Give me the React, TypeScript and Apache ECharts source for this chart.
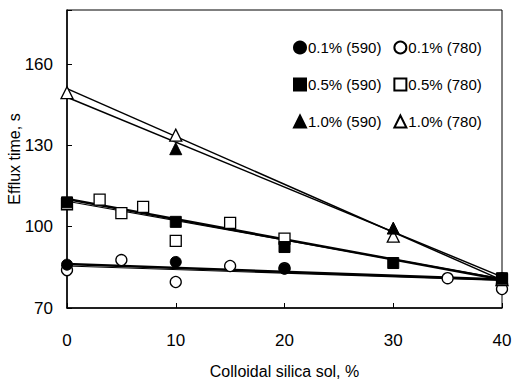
import React, { useEffect, useRef } from "react";
import * as echarts from "echarts";

const seriesNames = ["0.1% (590)", "0.1% (780)", "0.5% (590)", "0.5% (780)", "1.0% (590)", "1.0% (780)"];

// scatter data [x, y]
const c590: number[][] = [[0, 86], [10, 87], [20, 84.5], [40, 81]];
const c780: number[][] = [[0, 84], [5, 87.7], [10, 79.6], [15, 85.5], [20, 84.7], [35, 81], [40, 77]];
const s590: number[][] = [[0, 109], [10, 101.8], [20, 92.5], [30, 86.6], [40, 81]];
const s780: number[][] = [[0, 108.3], [3, 110], [5, 105], [7, 107.3], [10, 94.8], [15, 101.4], [20, 95.6], [40, 80.5]];
const t590: number[][] = [[10, 128.8], [30, 99.5], [40, 81]];
const t780: number[][] = [[0, 149.5], [10, 133.8], [30, 96.5], [40, 80.5]];

// fitted lines [x, y] endpoints
const fitC590: number[][] = [[0, 86.2], [40, 80.5]];
const fitC780: number[][] = [[0, 85.5], [40, 80.2]];
const fitS590: number[][] = [[0, 110.2], [40, 80.5]];
const fitS780: number[][] = [[0, 109.4], [40, 80.8]];
const fitT590: number[][] = [[0, 147.8], [40, 81.5]];
const fitT780: number[][] = [[0, 151], [40, 80.3]];

const yTicks = [70, 100, 130, 160];

const FONT = "Liberation Sans, Arial, sans-serif";

export default function App() {
  const ref = useRef<HTMLDivElement>(null);
  useEffect(() => {
    if (!ref.current) return;
    const chart = echarts.init(ref.current, undefined, { renderer: "svg" });
    const filled = { color: "#000", borderColor: "#000", borderWidth: 1, opacity: 1 };
    const open = { color: "#fff", borderColor: "#000", borderWidth: 1.3, opacity: 1 };
    const sc = (name: string, data: number[][], symbol: string, size: number, style: any) => ({
      type: "scatter",
      name,
      data,
      symbol,
      symbolSize: size,
      itemStyle: style,
      z: style.color === "#fff" ? 4 : 5,
    });
    const ln = (data: number[][], w: number) => ({
      type: "line",
      data,
      symbol: "none",
      lineStyle: { color: "#000", width: w },
      z: 3,
      silent: true,
    });
    const legendCommon = {
      left: 288,
      itemGap: 12,
      itemWidth: 12,
      itemHeight: 12,
      textStyle: { fontFamily: FONT, fontSize: 15, color: "#000", padding: [0, 0, 0, -3] },
    };
    chart.setOption({
      animation: false,
      backgroundColor: "#fff",
      grid: {
        left: 67,
        right: 11,
        top: 10,
        bottom: 74,
        show: true,
        borderColor: "#000",
        borderWidth: 1,
        containLabel: false,
        outerBoundsMode: "none",
      },
      legend: [
        { ...legendCommon, top: 35, data: [seriesNames[0], seriesNames[1]] },
        { ...legendCommon, top: 72, data: [seriesNames[2], seriesNames[3]] },
        { ...legendCommon, top: 109, data: [seriesNames[4], seriesNames[5]] },
      ],
      xAxis: {
        type: "value",
        min: 0,
        max: 40,
        interval: 10,
        name: "Colloidal silica sol, %",
        nameLocation: "middle",
        nameGap: 55,
        nameMoveOverlap: false,
        nameTextStyle: { fontFamily: FONT, fontSize: 16, color: "#000" },
        axisLine: { lineStyle: { color: "#000", width: 1.5 } },
        axisTick: { inside: true, length: 5, lineStyle: { color: "#000" } },
        axisLabel: { fontFamily: FONT, fontSize: 17, color: "#000", margin: 24 },
        splitLine: { show: false },
      },
      yAxis: {
        type: "value",
        min: 70,
        max: 180,
        interval: 30,
        name: "Efflux time, s",
        nameLocation: "middle",
        nameGap: 45,
        nameMoveOverlap: false,
        nameTextStyle: { fontFamily: FONT, fontSize: 16, color: "#000" },
        axisLine: { lineStyle: { color: "#000", width: 1.5 } },
        axisTick: { inside: true, length: 5, lineStyle: { color: "#000" } },
        axisLabel: {
          fontFamily: FONT,
          fontSize: 17,
          color: "#000",
          margin: 14,
          formatter: (v: number) => (yTicks.includes(v) ? String(v) : ""),
        },
        splitLine: { show: false },
      },
      series: [
        ln(fitC590, 2.5),
        ln(fitC780, 1.2),
        ln(fitS590, 2.5),
        ln(fitS780, 1.2),
        ln(fitT590, 1.5),
        ln(fitT780, 1.5),
        sc(seriesNames[0], c590, "circle", 11, filled),
        sc(seriesNames[1], c780, "circle", 11, open),
        sc(seriesNames[2], s590, "rect", 11, filled),
        sc(seriesNames[3], s780, "rect", 11, open),
        sc(seriesNames[4], t590, "triangle", 12, filled),
        sc(seriesNames[5], t780, "triangle", 12, open),
      ],
    });
    return () => chart.dispose();
  }, []);
  return <div ref={ref} style={{ width: 513, height: 382, position: "absolute", left: 0, top: 0 }} />;
}
